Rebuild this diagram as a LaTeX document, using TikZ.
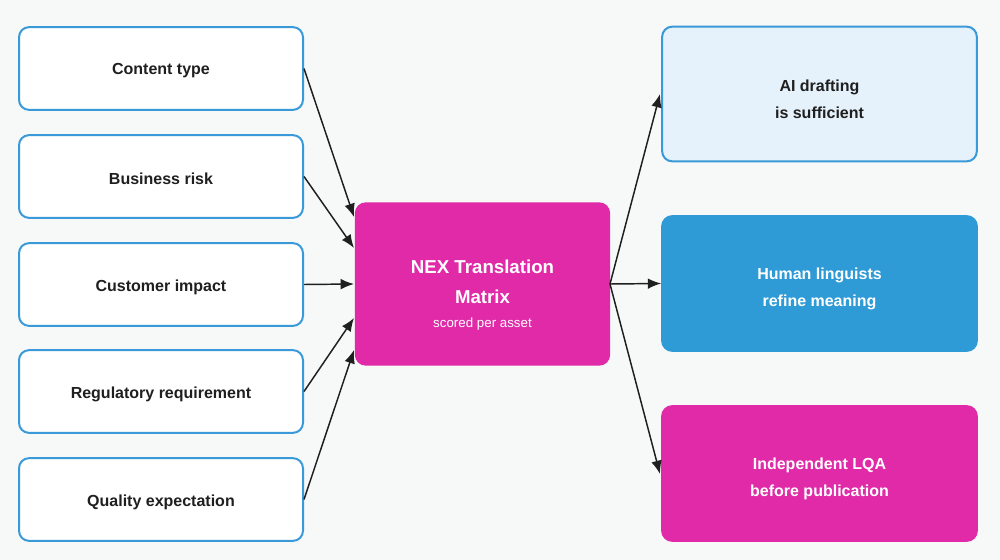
\documentclass[tikz,border=0pt]{standalone}
\usepackage{fontspec}
\setmainfont{Liberation Sans}
\usetikzlibrary{arrows.meta}
\definecolor{bg}{HTML}{F7F8F8}
\definecolor{bl}{HTML}{3A9AD9}
\definecolor{mag}{HTML}{E02AA8}
\definecolor{lb}{HTML}{E6F2FB}
\definecolor{mb}{HTML}{2E9AD6}
\definecolor{tx}{HTML}{1F1F1F}
\begin{document}
\begin{tikzpicture}[x=0.75pt,y=-0.75pt,
 box/.style={draw=bl,line width=1.5pt,rounded corners=7.5pt,inner sep=0pt},
 lbl/.style={align=center,font=\fontsize{12}{20}\selectfont\bfseries,inner sep=0pt},
 inb/.style={box,fill=white,minimum width=213pt,minimum height=62pt},
 outb/.style={box,minimum width=236pt,minimum height=101pt},
 arr/.style={-{Latex[length=10pt,width=8pt]},line width=1.1pt,draw=tx}]
\fill[bg] (0,0) rectangle (1000,560);
\useasboundingbox (0,0) rectangle (1000,560);
\node[inb] (a) at (161,68.5) {};
\node[inb] (b) at (161,176.5) {};
\node[inb] (c) at (161,284.5) {};
\node[inb] (d) at (161,391.5) {};
\node[inb] (e) at (161,499.5) {};
\node[lbl,text=tx] (at) at (161,71) {Content type};
\node[lbl,text=tx] (bt) at (161,179) {Business risk};
\node[lbl,text=tx] (ct) at (161,287) {Customer impact};
\node[lbl,text=tx] (dt) at (161,394) {Regulatory requirement};
\node[lbl,text=tx] (et) at (161,502) {Quality expectation};
\node[box,draw=mag,fill=mag,minimum width=190pt,minimum height=121pt] (m) at (482.5,284) {};
\node[align=center,text=white,inner sep=0pt,font=\fontsize{14}{22}\selectfont\bfseries] (mt) at (482.5,295)
 {NEX Translation\\Matrix\\[-4pt]{\fontsize{10}{13}\selectfont\mdseries scored per asset}};
\node[outb,fill=lb] (r1) at (819.5,94) {};
\node[outb,fill=mb,draw=mb] (r2) at (819.5,283.5) {};
\node[outb,fill=mag,draw=mag] (r3) at (819.5,473.5) {};
\node[lbl,text=tx] (r1t) at (819.5,99) {AI drafting\\is sufficient};
\node[lbl,text=white] (r2t) at (819.5,289) {Human linguists\\refine meaning};
\node[lbl,text=white] (r3t) at (819.5,479) {Independent LQA\\before publication};
\coordinate (t1) at (354,217);
\coordinate (t2) at (354,248);
\coordinate (t3) at (354,284);
\coordinate (t4) at (354,318);
\coordinate (t5) at (354,350);
\draw[arr] (a.east) -- (t1);
\draw[arr] (b.east) -- (t2);
\draw[arr] (c.east) -- (t3);
\draw[arr] (d.east) -- (t4);
\draw[arr] (e.east) -- (t5);
\coordinate (s) at (610,284);
\draw[arr] (s) -- (660,94);
\draw[arr] (s) -- (r2.west);
\draw[arr] (s) -- (660,474);
\end{tikzpicture}
\end{document}
